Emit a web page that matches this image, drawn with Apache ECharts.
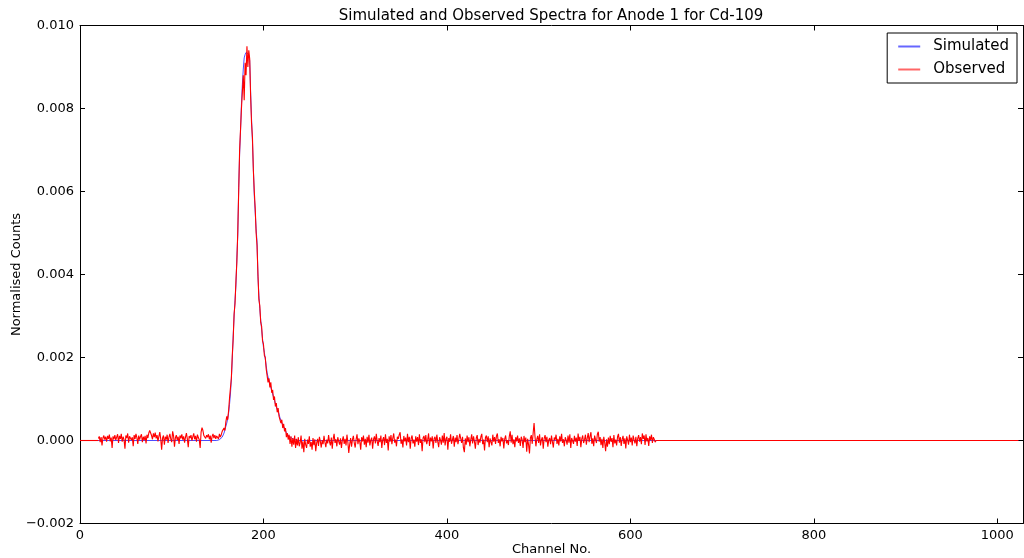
<!DOCTYPE html>
<html>
<head>
<meta charset="utf-8">
<script src="https://cdn.jsdelivr.net/npm/echarts@6/dist/echarts.min.js"></script>
<style>html,body{margin:0;padding:0;background:#fff}#c{width:1024px;height:558px}</style>
</head>
<body>
<div id="c"></div>
<script>
// ---- data ----
const xTicks = [0, 200, 400, 600, 800, 1000];
const yTicks = [-0.002, 0.000, 0.002, 0.004, 0.006, 0.008, 0.010];
const firstChannel = 0;
const lastChannel = 1023;

// Simulated spectrum: zero outside the peak, peak values per channel from 150
const simulatedStart = 150;
const simulatedPeak = [
0.00001,0.00001,0.00002,0.00003,0.00005,0.00008,0.00012,0.00018,0.00026,0.00034,
0.00042,0.00052,0.00066,0.00087,0.00112,0.00148,0.00196,0.00252,0.00300,0.00338,
0.00375,0.00440,0.00495,0.00610,0.00690,0.00745,0.00810,0.00858,0.00895,0.00922,
0.00930,0.00935,0.00936,0.00934,0.00930,0.00915,0.00840,0.00775,0.00720,0.00655,
0.00590,0.00550,0.00510,0.00478,0.00395,0.00350,0.00318,0.00290,0.00268,0.00245,
0.00225,0.00212,0.00196,0.00180,0.00163,0.00153,0.00145,0.00137,0.00129,0.00120,
0.00112,0.00105,0.00097,0.00088,0.00081,0.00075,0.00070,0.00063,0.00055,0.00048,
0.00042,0.00037,0.00033,0.00030,0.00024,0.00019,0.00015,0.00012,0.00010,0.00008,
0.00007,0.00005,0.00004,0.00003,0.00002,0.00002,0.00001,0.00001,0
];

// Observed spectrum: non-zero only from channel 20 to 628
const observedStart = 20;
const observedLeft = [ // ch 20-149
0.00005,0.00010,-0.00004,0.00008,-0.00012,0.00006,0.00012,0.00002,0.00009,-0.00003,
0.00011,0.00004,0.00014,-0.00002,0.00007,-0.00018,0.00010,0.00003,0.00013,0.00001,
0.00008,0.00015,-0.00006,0.00011,0.00004,0.00016,-0.00003,0.00009,0.00002,-0.00020,
0.00012,0.00006,0.00017,-0.00005,0.00010,0.00014,0.00001,0.00008,-0.00014,0.00013,
0.00004,0.00016,0.00007,-0.00008,0.00012,0.00002,0.00010,0.00015,-0.00004,0.00009,
0.00001,0.00011,-0.00007,0.00014,0.00006,0.00018,0.00024,0.00026,0.00012,0.00003,
0.00017,0.00008,0.00019,0.00005,0.00013,-0.00002,0.00010,0.00020,0.00004,-0.00022,
0.00006,0.00012,-0.00010,0.00009,0.00002,0.00014,-0.00006,0.00008,0.00016,0.00003,
-0.00004,0.00022,0.00011,-0.00015,0.00007,0.00013,0.00001,0.00009,-0.00008,0.00012,
0.00005,0.00015,0.00002,0.00010,-0.00005,0.00008,0.00018,0.00004,-0.00016,0.00011,
0.00006,0.00013,0.00000,0.00009,0.00017,0.00003,0.00011,-0.00003,0.00014,0.00007,
0.00002,-0.00018,0.00020,0.00031,0.00024,0.00012,0.00016,0.00005,0.00013,0.00008,
0.00015,0.00003,0.00012,-0.00005,0.00010,0.00016,0.00006,0.00013,0.00004,0.00011
];
const observedPeak = [ // ch 150-237
0.00012,0.00004,0.00016,0.00008,0.00014,0.00022,0.00018,0.00030,0.00024,0.00045,
0.00058,0.00050,0.00072,0.00102,0.00098,0.00150,0.00205,0.00245,0.00305,0.00330,
0.00385,0.00430,0.00505,0.00600,0.00700,0.00750,0.00800,0.00840,0.00880,0.00820,
0.00910,0.00880,0.00950,0.00900,0.00940,0.00920,0.00830,0.00765,0.00730,0.00650,
0.00600,0.00560,0.00500,0.00470,0.00400,0.00340,0.00325,0.00285,0.00275,0.00240,
0.00232,0.00205,0.00200,0.00172,0.00168,0.00140,0.00150,0.00128,0.00140,0.00115,
0.00122,0.00098,0.00106,0.00082,0.00090,0.00068,0.00078,0.00058,0.00062,0.00042,
0.00050,0.00030,0.00040,0.00022,0.00030,0.00008,0.00018,0.00002,0.00014,-0.00008,
0.00010,-0.00015,0.00006,-0.00010,0.00012,-0.00018,0.00004,-0.00012
];
const observedRight = [ // ch 238-628
0.00008,-0.00014,-0.00005,0.00012,-0.00020,-0.00002,-0.00028,0.00004,-0.00010,-0.00018,
0.00002,-0.00008,0.00010,-0.00015,-0.00004,-0.00022,0.00006,-0.00011,0.00003,-0.00026,
-0.00006,0.00004,-0.00013,0.00009,-0.00002,-0.00017,0.00001,-0.00009,0.00011,-0.00004,
-0.00016,0.00002,-0.00007,0.00013,-0.00003,-0.00012,0.00007,-0.00020,0.00004,0.00016,
-0.00006,0.00003,-0.00014,0.00008,-0.00002,-0.00010,0.00005,-0.00018,0.00001,0.00010,
-0.00008,0.00004,-0.00012,0.00014,-0.00004,-0.00030,-0.00009,0.00006,-0.00015,0.00002,
0.00011,-0.00006,-0.00017,0.00003,0.00015,-0.00009,0.00005,-0.00003,-0.00022,0.00008,
-0.00002,0.00012,-0.00010,0.00004,-0.00016,0.00009,-0.00005,0.00014,-0.00012,0.00001,
0.00007,-0.00020,0.00003,0.00010,-0.00007,0.00016,-0.00002,-0.00013,0.00006,-0.00004,
0.00012,-0.00018,0.00002,0.00008,-0.00011,0.00015,-0.00006,0.00004,-0.00024,0.00010,
-0.00003,0.00013,-0.00009,0.00006,0.00017,-0.00005,0.00002,-0.00014,0.00009,0.00004,
0.00014,0.00020,-0.00008,0.00003,-0.00017,0.00011,-0.00002,0.00007,-0.00012,0.00016,
-0.00004,0.00009,-0.00020,0.00005,0.00012,-0.00007,0.00002,-0.00015,0.00010,-0.00003,
0.00008,-0.00011,0.00015,-0.00006,0.00003,-0.00026,0.00006,0.00011,-0.00004,0.00013,
-0.00009,0.00002,0.00017,-0.00013,0.00007,-0.00002,0.00010,-0.00019,0.00004,0.00009,
-0.00006,0.00014,-0.00003,-0.00016,0.00008,0.00001,-0.00010,0.00012,-0.00005,0.00018,
-0.00012,0.00004,0.00009,-0.00022,0.00006,-0.00003,0.00015,-0.00008,0.00002,0.00011,
-0.00015,0.00007,-0.00004,0.00013,-0.00009,0.00003,0.00016,0.00020,-0.00006,0.00009,
-0.00018,-0.00028,0.00005,-0.00010,0.00012,-0.00004,0.00008,-0.00014,0.00002,0.00015,
-0.00007,0.00010,-0.00002,-0.00020,0.00006,0.00013,-0.00011,0.00004,-0.00005,0.00009,
0.00016,-0.00009,0.00002,-0.00024,0.00007,0.00012,-0.00004,0.00010,-0.00016,0.00005,
0.00001,-0.00012,0.00014,-0.00003,0.00008,-0.00008,0.00011,0.00017,-0.00006,0.00003,
-0.00014,0.00009,-0.00002,0.00006,-0.00019,0.00004,0.00012,-0.00007,0.00001,-0.00011,
0.00010,0.00022,-0.00005,0.00014,-0.00009,0.00003,-0.00016,0.00008,-0.00002,0.00012,
-0.00006,0.00005,-0.00013,0.00009,0.00002,-0.00018,0.00011,-0.00004,0.00007,-0.00027,
0.00004,-0.00010,-0.00031,0.00006,0.00013,-0.00008,0.00018,0.00042,0.00010,-0.00014,
0.00003,0.00011,-0.00006,0.00015,-0.00012,0.00002,0.00008,-0.00020,0.00005,0.00013,
-0.00004,0.00009,-0.00015,0.00001,0.00006,-0.00009,0.00012,-0.00003,-0.00017,0.00007,
0.00002,0.00014,-0.00008,0.00004,-0.00012,0.00010,-0.00002,0.00016,-0.00006,0.00003,
-0.00014,0.00008,0.00001,-0.00010,0.00012,-0.00005,0.00015,-0.00018,0.00006,0.00002,
-0.00008,0.00011,-0.00003,0.00007,-0.00013,0.00017,-0.00001,0.00009,-0.00016,0.00004,
0.00012,-0.00006,0.00002,0.00014,-0.00010,0.00006,0.00018,-0.00004,0.00010,0.00020,
-0.00008,0.00005,-0.00014,0.00012,0.00002,-0.00006,0.00015,0.00021,-0.00003,0.00008,
-0.00011,0.00004,-0.00018,0.00009,-0.00005,-0.00026,0.00003,-0.00015,0.00007,-0.00009,
0.00011,-0.00003,0.00006,-0.00016,0.00013,-0.00007,0.00002,-0.00012,0.00009,0.00016,
-0.00005,0.00008,-0.00013,0.00003,0.00011,-0.00008,0.00005,-0.00019,0.00010,0.00001,
-0.00010,0.00014,-0.00004,0.00007,-0.00012,0.00012,0.00002,-0.00007,0.00009,-0.00014,
0.00005,0.00013,-0.00003,0.00008,-0.00009,0.00017,0.00004,0.00012,-0.00011,0.00015,
-0.00002,0.00006,-0.00013,0.00010,0.00001,0.00014,-0.00006,0.00008,0.00003,-0.00004,
0.00000
];

// ---- build series data ----
const simData = [[firstChannel, 0], [simulatedStart - 1, 0]];
simulatedPeak.forEach((v, i) => simData.push([simulatedStart + i, v]));
const simTail = [[simulatedStart + simulatedPeak.length - 1, 0], [lastChannel, 0]];

const obsValues = observedLeft.concat(observedPeak, observedRight);
const obsData = [];
obsValues.forEach((v, i) => obsData.push([observedStart + i, v]));
const obsLastNoise = observedStart + obsValues.length - 1;
const obsHead = [[firstChannel, 0], [observedStart, 0]];
const obsTail = [[obsLastNoise, 0], [lastChannel, 0]];

const FONT = 'DejaVu Sans';
const xMin = xTicks[0], xMax = 1028, xStep = xTicks[1] - xTicks[0];
const yMin = yTicks[0], yMax = yTicks[yTicks.length - 1], yStep = 0.002;
const fmtY = v => (v < 0 ? '\u2212' : '') + Math.abs(v).toFixed(3);
const fmtX = v => String(Math.round(v));

function axisCommon() {
  return {
    axisLine: { show: true, onZero: false, lineStyle: { color: '#000', width: 1 } },
    axisTick: { show: true, inside: true, length: 5, lineStyle: { color: '#000', width: 1 } },
    splitLine: { show: false }
  };
}
const simStyle = { color: '#0000ff', width: 1, opacity: 0.7 };
const obsStyle = { color: '#ff0000', width: 1.1, opacity: 1 };
function lineSeries(name, data, style, legendOpacity) {
  return {
    name: name, type: 'line', xAxisIndex: 0, yAxisIndex: 0,
    data: data, symbol: 'none', showSymbol: false,
    lineStyle: style,
    itemStyle: { color: style.color, opacity: legendOpacity }
  };
}

const chart = echarts.init(document.getElementById('c'), null, { renderer: 'canvas' });
chart.setOption({
  animation: false,
  backgroundColor: '#fff',
  textStyle: { fontFamily: FONT },
  grid: { left: 80, right: 1, top: 25.5, bottom: 34.5, containLabel: false, outerBoundsMode: 'none' },
  graphic: [{
    type: 'text', x: 551, y: 16,
    style: { text: 'Simulated and Observed Spectra for Anode 1 for Cd-109', font: '15px "DejaVu Sans"', fill: '#000', textAlign: 'center', textVerticalAlign: 'middle' }
  }],
  legend: {
    right: 7, top: 33, orient: 'vertical',
    backgroundColor: '#fff', borderColor: '#000', borderWidth: 1, borderRadius: 0,
    padding: [6, 8, 6, 11], itemGap: 8, itemWidth: 22, itemHeight: 2, icon: 'rect',
    textStyle: { fontFamily: FONT, fontSize: 15, color: '#000', lineHeight: 14, padding: [0, 0, 0, 8] },
    data: ['Simulated', 'Observed']
  },
  xAxis: [
    Object.assign(axisCommon(), {
      type: 'value', position: 'bottom', min: xMin, max: xMax, interval: xStep,
      name: 'Channel No.', nameLocation: 'middle', nameGap: 20, nameMoveOverlap: false,
      nameTextStyle: { fontFamily: FONT, fontSize: 13, color: '#000' },
      axisLabel: { show: true, margin: 6, fontFamily: FONT, fontSize: 13, color: '#000', showMaxLabel: false, formatter: fmtX }
    }),
    Object.assign(axisCommon(), {
      type: 'value', position: 'top', min: xMin, max: xMax, interval: xStep,
      axisLabel: { show: false }
    })
  ],
  yAxis: [
    Object.assign(axisCommon(), {
      type: 'value', position: 'left', min: yMin, max: yMax, interval: yStep,
      name: 'Normalised Counts', nameLocation: 'middle', nameGap: 57, nameMoveOverlap: false,
      nameTextStyle: { fontFamily: FONT, fontSize: 13, color: '#000' },
      axisLabel: { show: true, margin: 6, fontFamily: FONT, fontSize: 13, color: '#000', formatter: fmtY }
    }),
    Object.assign(axisCommon(), {
      type: 'value', position: 'right', min: yMin, max: yMax, interval: yStep,
      axisLabel: { show: false }
    })
  ],
  series: [
    lineSeries('Simulated', simData, simStyle, 0.6),
    lineSeries('Simulated', simTail, simStyle, 0.6),
    lineSeries('Observed', obsHead, obsStyle, 0.6),
    lineSeries('Observed', obsData, obsStyle, 0.6),
    lineSeries('Observed', obsTail, obsStyle, 0.6)
  ]
});
</script>
</body>
</html>
